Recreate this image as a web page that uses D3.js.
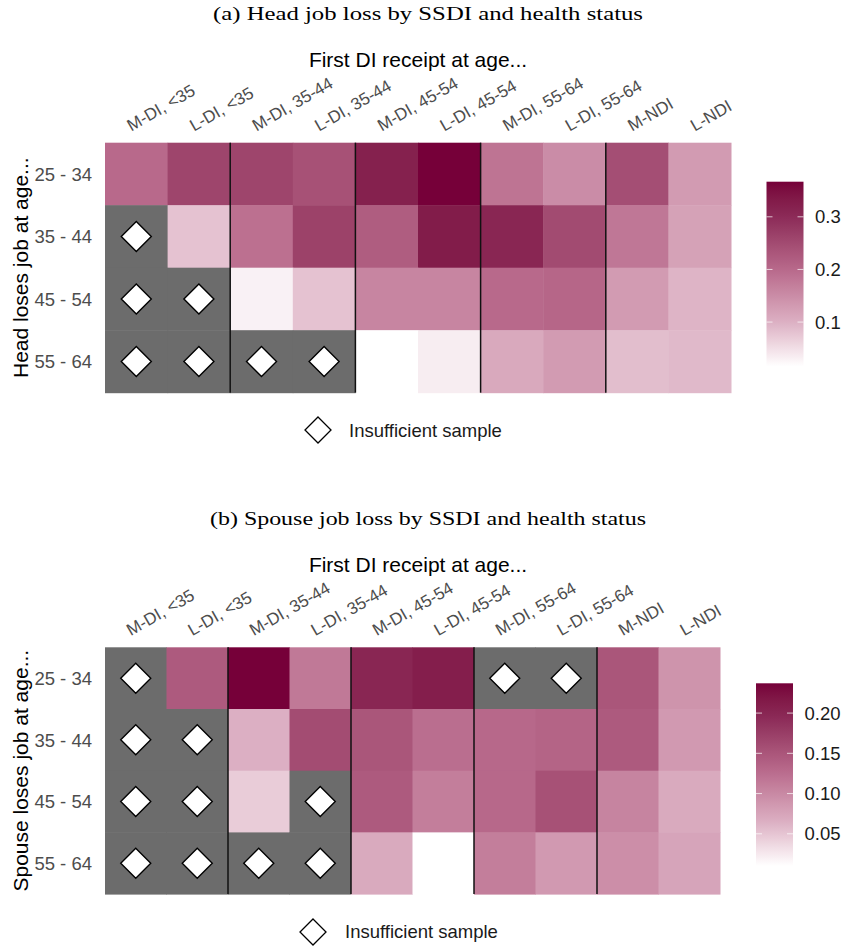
<!DOCTYPE html>
<html>
<head>
<meta charset="utf-8">
<script src="https://cdn.jsdelivr.net/npm/d3@7"></script>
<style>
  html, body { margin: 0; padding: 0; background: #fff; }
  svg { display: block; }
</style>
</head>
<body>
<svg id="chart" width="845" height="946"></svg>
<script>
// ---------------- DATA ----------------
const colLabels = ["M-DI, <35", "L-DI, <35", "M-DI, 35-44", "L-DI, 35-44", "M-DI, 45-54",
                   "L-DI, 45-54", "M-DI, 55-64", "L-DI, 55-64", "M-NDI", "L-NDI"];
const rowLabels = ["25 - 34", "35 - 44", "45 - 54", "55 - 64"];

// null = insufficient sample
const headValues = [
  [0.200, 0.260, 0.260, 0.240, 0.320, 0.3667, 0.185, 0.150, 0.245, 0.130],
  [null,  0.080, 0.190, 0.265, 0.220, 0.330,  0.310, 0.250, 0.180, 0.120],
  [null,  null,  0.030, 0.080, 0.160, 0.160,  0.200, 0.205, 0.130, 0.095],
  [null,  null,  null,  null,  0.0156, 0.035, 0.110, 0.130, 0.085, 0.090]
];
const spouseValues = [
  [null,  0.145, 0.237, 0.115, 0.200, 0.210, null,  null,  0.150, 0.090],
  [null,  null,  0.065, 0.160, 0.150, 0.125, 0.130, 0.135, 0.145, 0.085],
  [null,  null,  0.045, null,  0.145, 0.110, 0.130, 0.155, 0.105, 0.070],
  [null,  null,  null,  null,  0.070, 0.010, 0.110, 0.085, 0.095, 0.075]
];
const headTicks = [0.1, 0.2, 0.3];
const headTickLabels = ["0.1", "0.2", "0.3"];
const spouseTicks = [0.05, 0.10, 0.15, 0.20];
const spouseTickLabels = ["0.05", "0.10", "0.15", "0.20"];
const separatorsAfter = ["L-DI, <35", "L-DI, 35-44", "L-DI, 45-54", "L-DI, 55-64"];

// colour ramp (fraction of data range -> colour)
const rampStops = [0, 0.24, 0.525, 0.81, 1];
const rampColors = ["#ffffff", "#dcb0c3", "#b8698b", "#8c2b58", "#760039"];

const panels = [
  { title: "(a) Head job loss by SSDI and health status", yTitle: "Head loses job at age...",
    values: headValues, ticks: headTicks, tickLabels: headTickLabels,
    top: 0, hx: 105, hy: 142.7, cw: 62.6, ch: 62.5,
    bar: { x: 766.5, y: 181.7, w: 37, h: 184.8 },
    leg: { dx: 318, dy: 430, tx: 349, ty: 437 }, titleLen: 430, yTitleLen: 225 },
  { title: "(b) Spouse job loss by SSDI and health status", yTitle: "Spouse loses job at age...",
    values: spouseValues, ticks: spouseTicks, tickLabels: spouseTickLabels,
    top: 504.6, hx: 105, hy: 647.3, cw: 61.5, ch: 61.7,
    bar: { x: 756, y: 683.3, w: 37, h: 182.7 },
    leg: { dx: 313, dy: 932, tx: 345, ty: 938 }, titleLen: 436, yTitleLen: 245 }
];

const GREY = "#6c6c6c";
const SANS = "'Liberation Sans', Arial, Helvetica, sans-serif";
const svg = d3.select("#chart");
const defs = svg.append("defs");

panels.forEach((p, pi) => {
  const g = svg.append("g");
  const flat = p.values.flat().filter(v => v !== null);
  const vmin = d3.min(flat), vmax = d3.max(flat);
  const color = d3.scaleLinear()
    .domain(rampStops.map(f => vmin + f * (vmax - vmin)))
    .range(rampColors)
    .interpolate(d3.interpolateLab);

  const x = d3.scaleBand().domain(colLabels).range([p.hx, p.hx + p.cw * colLabels.length]).padding(0);
  const y = d3.scaleBand().domain(rowLabels).range([p.hy, p.hy + p.ch * rowLabels.length]).padding(0);

  // Title (serif)
  g.append("text")
    .attr("x", 428).attr("y", p.top + 20)
    .attr("text-anchor", "middle")
    .attr("font-family", "'Liberation Serif', 'DejaVu Serif', serif")
    .attr("font-size", 19)
    .attr("textLength", p.titleLen).attr("lengthAdjust", "spacingAndGlyphs")
    .attr("fill", "#000")
    .text(p.title);

  // X title
  g.append("text")
    .attr("x", 418).attr("y", p.top + 67)
    .attr("text-anchor", "middle")
    .attr("font-family", SANS)
    .attr("font-size", 21)
    .attr("fill", "#000")
    .text("First DI receipt at age...");

  // Cells
  const cells = [];
  p.values.forEach((row, ri) => row.forEach((v, ci) => cells.push({ r: rowLabels[ri], c: colLabels[ci], v })));
  g.selectAll("rect.cell").data(cells).enter().append("rect")
    .attr("class", "cell")
    .attr("x", d => x(d.c)).attr("y", d => y(d.r))
    .attr("width", x.bandwidth() + 0.5).attr("height", y.bandwidth() + 0.5)
    .attr("fill", d => d.v === null ? GREY : color(d.v));

  // Separators
  g.selectAll("line.sep").data(separatorsAfter).enter().append("line")
    .attr("x1", d => x(d) + x.bandwidth()).attr("x2", d => x(d) + x.bandwidth())
    .attr("y1", y.range()[0]).attr("y2", y.range()[1])
    .attr("stroke", "#111").attr("stroke-width", 1.5);

  // Diamonds
  const diamond = s => `M0,${-s}L${s},0L0,${s}L${-s},0Z`;
  g.selectAll("path.dia").data(cells.filter(d => d.v === null)).enter().append("path")
    .attr("class", "dia")
    .attr("d", diamond(15))
    .attr("transform", d => `translate(${x(d.c) + x.bandwidth() / 2},${y(d.r) + y.bandwidth() / 2})`)
    .attr("fill", "#fff").attr("stroke", "#000").attr("stroke-width", 1.4);

  // Column labels (rotated)
  g.selectAll("text.col").data(colLabels).enter().append("text")
    .attr("class", "col")
    .attr("transform", d => `translate(${x(d) + x.bandwidth() / 2 - 5},${p.hy - 11}) rotate(-30)`)
    .attr("font-family", SANS)
    .attr("font-size", 17)
    .attr("fill", "#4d4d4d")
    .text(d => d);

  // Row labels
  g.selectAll("text.row").data(rowLabels).enter().append("text")
    .attr("class", "row")
    .attr("x", 92).attr("y", d => y(d) + y.bandwidth() / 2)
    .attr("dy", "0.36em")
    .attr("text-anchor", "end")
    .attr("font-family", SANS)
    .attr("font-size", 18.5)
    .attr("fill", "#4d4d4d")
    .text(d => d);

  // Y title
  const ymid = (y.range()[0] + y.range()[1]) / 2;
  g.append("text")
    .attr("transform", `translate(28,${ymid}) rotate(-90)`)
    .attr("text-anchor", "middle")
    .attr("font-family", SANS)
    .attr("font-size", 21)
    .attr("fill", "#000")
    .text(p.yTitle);

  // Colorbar
  const gid = "grad" + pi;
  const grad = defs.append("linearGradient").attr("id", gid)
    .attr("x1", 0).attr("y1", 1).attr("x2", 0).attr("y2", 0);
  d3.range(0, 41).forEach(i => {
    const t = i / 40;
    grad.append("stop").attr("offset", t).attr("stop-color", color(vmin + t * (vmax - vmin)));
  });
  const b = p.bar;
  g.append("rect").attr("x", b.x).attr("y", b.y).attr("width", b.w).attr("height", b.h)
    .attr("fill", `url(#${gid})`);
  const ys = d3.scaleLinear().domain([vmin, vmax]).range([b.y + b.h, b.y]);
  p.ticks.forEach((t, i) => {
    const ty = ys(t);
    g.append("line").attr("x1", b.x).attr("x2", b.x + 6).attr("y1", ty).attr("y2", ty)
      .attr("stroke", "#fff").attr("stroke-opacity", 0.7).attr("stroke-width", 1);
    g.append("line").attr("x1", b.x + b.w - 6).attr("x2", b.x + b.w).attr("y1", ty).attr("y2", ty)
      .attr("stroke", "#fff").attr("stroke-opacity", 0.7).attr("stroke-width", 1);
    g.append("text").attr("x", b.x + b.w + 11.5).attr("y", ty).attr("dy", "0.36em")
      .attr("font-family", SANS)
      .attr("font-size", 18.5).attr("fill", "#1a1a1a")
      .text(p.tickLabels[i]);
  });

  // Insufficient sample legend
  g.append("path").attr("d", diamond(13))
    .attr("transform", `translate(${p.leg.dx},${p.leg.dy})`)
    .attr("fill", "#fff").attr("stroke", "#000").attr("stroke-width", 1.3);
  g.append("text").attr("x", p.leg.tx).attr("y", p.leg.ty)
    .attr("font-family", SANS)
    .attr("font-size", 18.5).attr("fill", "#1a1a1a")
    .text("Insufficient sample");
});
</script>
</body>
</html>
